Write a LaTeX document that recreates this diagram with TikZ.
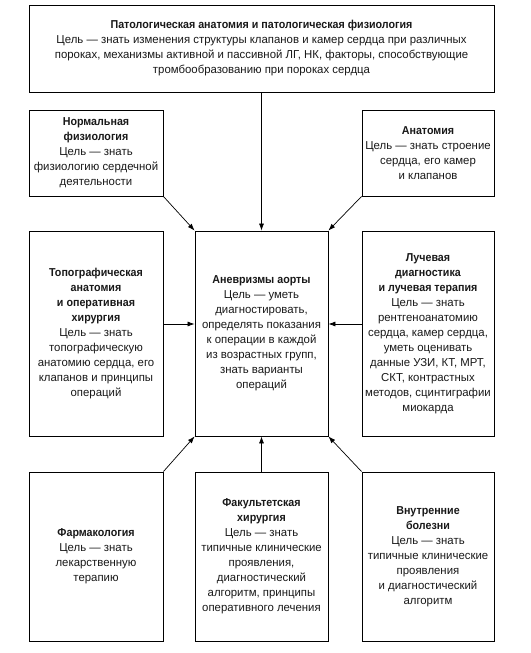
\documentclass[tikz,border=0pt]{standalone}
\usepackage{fontspec}
\setmainfont{Liberation Sans}[FakeStretch=0.99, BoldFeatures={FakeStretch=0.93}]
\usetikzlibrary{arrows.meta,shadows}
\begin{document}
\begin{tikzpicture}[x=1pt,y=-1pt,
 box/.style={draw=black, line width=0.8pt, fill=white, align=center,
   font=\fontsize{11.5}{15}\selectfont, inner sep=0pt, text=black!90,
   drop shadow={shadow xshift=0.9pt, shadow yshift=-0.9pt, fill=black!40, opacity=1}},
 arr/.style={-{Latex[length=7pt,width=5pt]}, line width=0.7pt}]
\useasboundingbox (0,0) rectangle (530,653);

\node[box, minimum width=465pt, minimum height=87pt] (top) at (261.5,48.5)
 {\textbf{Патологическая анатомия и патологическая физиология}\\
  Цель — знать изменения структуры клапанов и камер сердца при различных\\
  пороках, механизмы активной и пассивной ЛГ, НК, факторы, способствующие\\
  тромбообразованию при пороках сердца};

\node[box, minimum width=134pt, minimum height=86pt] (norm) at (96,153)
 {\textbf{Нормальная}\\\textbf{физиология}\\Цель — знать\\физиологию сердечной\\деятельности};

\node[box, minimum width=132pt, minimum height=86pt] (anat) at (428,153)
 {\textbf{Анатомия}\\Цель — знать строение\\сердца, его камер\\и клапанов};

\node[box, minimum width=134pt, minimum height=205pt] (topo) at (96,333.5)
 {\textbf{Топографическая}\\\textbf{анатомия}\\\textbf{и оперативная}\\\textbf{хирургия}\\Цель — знать\\топографическую\\анатомию сердца, его\\клапанов и принципы\\операций};

\node[box, minimum width=133pt, minimum height=205pt] (cen) at (261.5,333.5)
 {\textbf{Аневризмы аорты}\\Цель — уметь\\диагностировать,\\определять показания\\к операции в каждой\\из возрастных групп,\\знать варианты\\операций};

\node[box, minimum width=132pt, minimum height=205pt] (luch) at (428,333.5)
 {\textbf{Лучевая}\\\textbf{диагностика}\\\textbf{и лучевая терапия}\\Цель — знать\\рентгеноанатомию\\сердца, камер сердца,\\уметь оценивать\\данные УЗИ, КТ, МРТ,\\СКТ, контрастных\\методов, сцинтиграфии\\миокарда};

\node[box, minimum width=134pt, minimum height=169pt] (pharm) at (96,556.5)
 {\textbf{Фармакология}\\Цель — знать\\лекарственную\\терапию};

\node[box, minimum width=133pt, minimum height=169pt] (fak) at (261.5,556.5)
 {\textbf{Факультетская}\\\textbf{хирургия}\\Цель — знать\\типичные клинические\\проявления,\\диагностический\\алгоритм, принципы\\оперативного лечения};

\node[box, minimum width=132pt, minimum height=169pt] (vnut) at (428,556.5)
 {\textbf{Внутренние}\\\textbf{болезни}\\Цель — знать\\типичные клинические\\проявления\\и диагностический\\алгоритм};

\draw[arr] (top.south) -- (cen.north);
\draw[arr] (norm.south east) -- (cen.north west);
\draw[arr] (anat.south west) -- (cen.north east);
\draw[arr] ([yshift=9.5pt]topo.east) -- ([yshift=9.5pt]cen.west);
\draw[arr] ([yshift=9.5pt]luch.west) -- ([yshift=9.5pt]cen.east);
\draw[arr] (pharm.north east) -- (cen.south west);
\draw[arr] (fak.north) -- (cen.south);
\draw[arr] (vnut.north west) -- (cen.south east);
\end{tikzpicture}
\end{document}
